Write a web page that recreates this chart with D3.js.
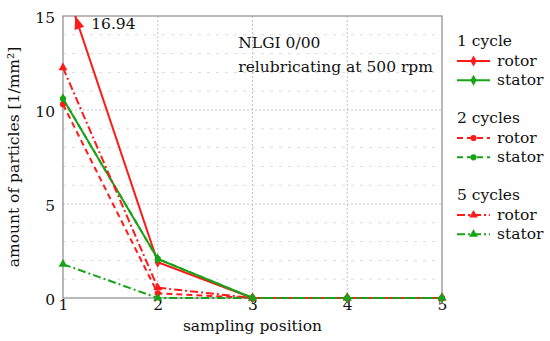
<!DOCTYPE html>
<html>
<head>
<meta charset="utf-8">
<script src="https://cdn.jsdelivr.net/npm/d3@7"></script>
<style>
  body { margin: 0; background: #fff; }
  svg text { font-family: "DejaVu Serif", "Liberation Serif", serif; fill: #111; }
</style>
</head>
<body>
<div class="chart"></div>
<script>
// sampling positions
const positions = [1, 2, 3, 4, 5];
const yTicks = [0, 5, 10, 15];

// values (particles per mm²)
const rotor1 = [16.94, 1.9, 0, 0, 0];
const stator1 = [10.6, 2.08, 0, 0, 0];
const rotor2 = [10.3, 0.25, 0, 0, 0];
const stator2 = [10.6, 2.08, 0, 0, 0];
const rotor5 = [12.25, 0.55, 0, 0, 0];
const stator5 = [1.8, 0, 0, 0, 0];

const groups = ["1 cycle", "2 cycles", "5 cycles"];
const parts = ["rotor", "stator"];

const red = "#ff1a1a", green = "#17a317";
const dashes = [null, "6,4", "8,3,2,3"];
const symbols = [d3.symbolDiamond, d3.symbolCircle, d3.symbolTriangle];
const symSize = [34, 30, 34];
const fs = 15.5;
const fontName = "DejaVu Serif";

const series = [
  {g: 0, p: 0, values: rotor1}, {g: 0, p: 1, values: stator1},
  {g: 1, p: 0, values: rotor2}, {g: 1, p: 1, values: stator2},
  {g: 2, p: 0, values: rotor5}, {g: 2, p: 1, values: stator5}
];

var margin = {top: 16, right: 108, bottom: 43, left: 63};
var width = 550 - margin.left - margin.right,
    height = 341 - margin.top - margin.bottom;

const root = d3.select(".chart").append("svg")
    .attr("width", 550)
    .attr("height", 341);

const svg = root.append("g")
    .attr("transform", "translate(" + margin.left + "," + margin.top + ")");

const xScale = d3.scaleLinear().domain([1, 5]).range([0, width]);
const yScale = d3.scaleLinear().domain([0, 15]).range([height, 0]);

svg.append("clipPath").attr("id", "plotclip")
  .append("rect").attr("x", -6).attr("y", 0).attr("width", width + 12).attr("height", height + 6);

// grid: minor horizontal every 1, vertical at positions
svg.append("g").selectAll("line")
  .data(d3.range(1, 15).filter(d => d % 5 !== 0))
  .join("line")
    .attr("x1", 0).attr("x2", width)
    .attr("y1", d => yScale(d)).attr("y2", d => yScale(d))
    .attr("stroke", "#dcdcdc").attr("stroke-width", 1)
    .attr("stroke-dasharray", "3,6");

svg.append("g").selectAll("line")
  .data([5, 10])
  .join("line")
    .attr("x1", 0).attr("x2", width)
    .attr("y1", d => yScale(d)).attr("y2", d => yScale(d))
    .attr("stroke", "#c4c4c4").attr("stroke-width", 1)
    .attr("stroke-dasharray", "2,2");

svg.append("g").selectAll("line")
  .data([2, 3, 4])
  .join("line")
    .attr("x1", d => xScale(d)).attr("x2", d => xScale(d))
    .attr("y1", 0).attr("y2", height)
    .attr("stroke", "#c4c4c4").attr("stroke-width", 1)
    .attr("stroke-dasharray", "2,2");

// frame
svg.append("rect")
    .attr("width", width).attr("height", height)
    .attr("fill", "none").attr("stroke", "#8a8a8a").attr("stroke-width", 1.2);

// axes (labels only)
const xAxis = d3.axisBottom(xScale).tickValues(positions).tickSize(0).tickPadding(1).tickFormat(d3.format("d"));
const yAxis = d3.axisLeft(yScale).tickValues(yTicks).tickSize(0).tickPadding(8);

svg.append("g")
    .attr("class", "axis x-axis")
    .attr("transform", `translate(0, ${height})`)
    .call(xAxis)
    .call(g => g.select(".domain").remove())
    .attr("font-family", fontName).attr("font-size", fs)
    .selectAll("text").attr("dy", "0.7em");

svg.append("g")
    .attr("class", "axis y-axis")
    .call(yAxis)
    .call(g => g.select(".domain").remove())
    .attr("font-family", fontName).attr("font-size", fs)
    .selectAll("text").attr("dy", "0.4em");

svg.selectAll(".axis text").attr("fill", "#111");

svg.append("text")
    .attr("x", width / 2).attr("y", height + 33)
    .attr("text-anchor", "middle").attr("font-size", fs)
    .text("sampling position");

svg.append("text")
    .attr("transform", `translate(${-44}, ${height / 2}) rotate(-90)`)
    .attr("text-anchor", "middle").attr("font-size", fs)
    .text("amount of particles [1/mm²]");

// annotation
const note = svg.append("text").attr("x", xScale(2.85)).attr("y", 32).attr("font-size", fs);
note.append("tspan").text("NLGI 0/00");
note.append("tspan").attr("x", xScale(2.85)).attr("dy", 23.5).text("relubricating at 500 rpm");

// lines
const line = d3.line().x((d, i) => xScale(positions[i])).y(d => yScale(d));
const plot = svg.append("g").attr("clip-path", "url(#plotclip)");

series.forEach(s => {
  const col = s.p === 0 ? red : green;
  plot.append("path")
      .datum(s.values)
      .attr("fill", "none")
      .attr("stroke", col)
      .attr("stroke-width", 2)
      .attr("stroke-dasharray", dashes[s.g])
      .attr("d", line);
  plot.selectAll(null)
      .data(s.values)
      .join("path")
      .attr("transform", (d, i) => `translate(${xScale(positions[i])},${yScale(d)})`)
      .attr("d", d3.symbol().type(symbols[s.g]).size(symSize[s.g]))
      .attr("fill", col);
});

// arrow where the 1 cycle rotor line leaves the plot
const x0 = xScale(positions[0]), y0 = yScale(rotor1[0]);
const x1 = xScale(positions[1]), y1 = yScale(rotor1[1]);
const t = (yScale(15) - y0) / (y1 - y0);
const ax = x0 + t * (x1 - x0), ay = yScale(15);
const ang = Math.atan2(y0 - y1, x0 - x1) * 180 / Math.PI;
svg.append("path")
    .attr("d", "M0,0 L-13,-5 L-13,5 Z")
    .attr("fill", red)
    .attr("transform", `translate(${ax},${ay}) rotate(${ang})`);
svg.append("text")
    .attr("x", ax + 16).attr("y", ay + 13)
    .attr("font-size", fs)
    .text(d3.format(".2f")(rotor1[0]));

// legend
const legend = root.append("g").attr("transform", "translate(457,0)");
const groupY = [46, 123, 200];
groups.forEach((gname, gi) => {
  const gy = groupY[gi];
  legend.append("text").attr("x", 0).attr("y", gy).attr("font-size", fs).text(gname);
  parts.forEach((pname, pi) => {
    const ly = gy + 15 + pi * 19.3;
    const col = pi === 0 ? red : green;
    legend.append("line")
        .attr("x1", 0).attr("x2", 33).attr("y1", ly).attr("y2", ly)
        .attr("stroke", col).attr("stroke-width", 2)
        .attr("stroke-dasharray", dashes[gi]);
    legend.append("path")
        .attr("transform", `translate(16.5,${ly})`)
        .attr("d", d3.symbol().type(symbols[gi]).size(symSize[gi]))
        .attr("fill", col);
    legend.append("text").attr("x", 40).attr("y", ly + 5).attr("font-size", fs).text(pname);
  });
});
</script>
</body>
</html>
